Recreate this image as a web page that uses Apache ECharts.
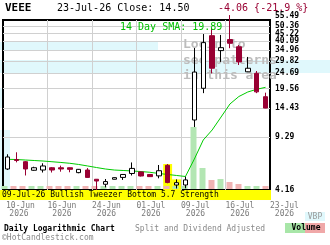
<!DOCTYPE html>
<html><head><meta charset="utf-8">
<script src="https://cdn.jsdelivr.net/npm/echarts@6/dist/echarts.min.js"></script>
<style>html,body{margin:0;padding:0;background:#fff}#c{width:330px;height:245px}</style>
</head><body><div id="c"></div>
<script>
// ---- data ----
const dates = ['10-Jun','11-Jun','12-Jun','15-Jun','16-Jun','17-Jun','18-Jun','22-Jun','23-Jun','24-Jun',
               '25-Jun','26-Jun','29-Jun','30-Jun','01-Jul','02-Jul','06-Jul','07-Jul','08-Jul','09-Jul',
               '10-Jul','13-Jul','14-Jul','15-Jul','16-Jul','17-Jul','20-Jul','21-Jul','22-Jul','23-Jul'];
const open  = [5.73,6.62,6.40,5.62,5.64,5.84,5.84,5.84,5.42,5.64,4.90,4.54,4.90,5.04,5.35,5.48,5.27,5.16,6.06,4.49,
               4.49,12.09,19.6,43.7,34.8,41.2,36.9,25.2,24.6,17.24];
const close = [6.88,6.52,5.73,5.84,6.00,5.64,5.73,5.70,5.70,5.04,4.77,4.73,5.02,5.27,5.78,5.15,5.10,5.58,4.66,4.65,
               4.85,25.1,39.3,26.6,36.4,38.9,29.3,26.6,18.56,14.50];
const low   = [5.64,6.34,5.19,5.58,5.43,5.43,5.50,5.45,5.37,5.02,4.16,4.33,4.89,4.85,5.19,5.11,5.08,4.97,4.61,4.26,
               4.27,10.86,18.2,24.6,29.3,36.1,27.95,25.1,18.2,14.45];
const high  = [7.17,7.39,6.47,5.93,6.25,5.90,6.03,5.86,5.73,5.81,4.92,4.92,5.04,5.28,6.33,5.51,5.31,6.09,6.18,4.89,
               5.10,36.2,44.8,49.1,44.2,59.8,37.9,31.6,25.5,18.33];
const sma14 = [6.64,6.62,6.57,6.52,6.47,6.40,6.33,6.25,6.14,6.00,5.86,5.73,5.64,5.60,5.56,5.51,5.45,5.35,5.27,5.19,
               5.11,6.67,8.91,10.38,12.65,15.43,17.29,18.52,19.30,19.89];
const volume = [3,3,3,3,3,3,3,3,3,3,3,3,3,3,3,3,3,3,3,3,3,62,21,9,10,7,5,3,3,3];
const volUp  = [1,0,0,1,1,0,0,0,1,0,0,1,1,1,1,0,0,1,0,1,1,1,1,0,1,0,0,1,1,0];
const patternIdx = [18,19];
const priceTicks = [4.16,9.29,14.43,19.56,24.69,29.82,34.96,40.09,45.22,50.36,55.49];
const xTickValues = [0,5,10,15,20,25,30];
const xTickLabels = ['10-Jun','16-Jun','24-Jun','01-Jul','09-Jul','16-Jul','23-Jul'];
const xTickYear = '2026';

// ---- chart ----
const FONT = 'DejaVu Sans Mono';
const RED = '#990033';
const GRIDC = '#d0d0d0';
const chart = echarts.init(document.getElementById('c'), null, {renderer:'canvas', width:330, height:245});
const candleData = dates.map((d,i)=>[open[i],close[i],low[i],high[i]]);
const volData = volume.map((v,i)=>({value:v, itemStyle:{color: volUp[i] ? '#b3e6b3' : '#f0b3b3'}}));
const pMin = priceTicks[0], pMax = priceTicks[priceTicks.length-1];
const hlData = patternIdx.map(i=>[{xAxis:i, yAxis:high[i]},{xAxis:i+1, yAxis:pMin}]);

const txt = (x,y,t,o) => ({type:'text', x, y, z:20,
  style:Object.assign({text:t, fontFamily:FONT, fontSize:8, fill:'#000', textVerticalAlign:'middle'}, o||{})});

chart.setOption({
  animation:false,
  backgroundColor:'#fff',
  grid:[
    {left:0, right:60, top:20, bottom:55, show:true, borderColor:'#000', borderWidth:2, backgroundColor:'transparent'},
    {left:0, right:60, bottom:56, height:100}
  ],
  xAxis:[
    {type:'category', gridIndex:0, data:dates, show:false},
    {type:'value', gridIndex:0, min:0, max:30, position:'bottom',
     axisLine:{show:false}, axisTick:{show:true, length:0, customValues:xTickValues.slice(1,-1)},
     splitLine:{show:true, lineStyle:{color:GRIDC, width:1}},
     axisLabel:{customValues:xTickValues, margin:12, align:'left',
       formatter:(v)=>{const k=xTickValues.indexOf(v); const s=k===0?'a0':'a'; return '{'+s+'|'+xTickLabels[k]+'}\n{b|'+xTickYear+'}';},
       rich:{
         a:{fontFamily:FONT, fontSize:8, color:'#7a7a7a', lineHeight:8},
         a0:{fontFamily:FONT, fontSize:8, color:'#7a7a7a', lineHeight:8, padding:[0,0,0,3]},
         b:{fontFamily:FONT, fontSize:8, color:'#7a7a7a', lineHeight:8, align:'center'}
       }}},
    {type:'category', gridIndex:1, data:dates, show:false}
  ],
  yAxis:[
    {type:'log', logBase:10, gridIndex:0, position:'right', min:pMin, max:pMax,
     axisLine:{show:false}, axisTick:{show:true, length:0, customValues:priceTicks.slice(1,-1)},
     splitLine:{show:true, lineStyle:{color:GRIDC, width:1}},
     axisLabel:{customValues:priceTicks, margin:5, fontFamily:FONT, fontSize:8, fontWeight:'bold', color:'#000',
       formatter:(v)=>Number(v).toFixed(2), verticalAlignMaxLabel:'bottom'}},
    {type:'value', gridIndex:1, min:0, max:100, show:false}
  ],
  graphic:[
    {type:'rect', shape:{x:0,y:42,width:158,height:8}, style:{fill:'#e0f8fc'}, z:-1},
    {type:'rect', shape:{x:0,y:60,width:330,height:13}, style:{fill:'#e0f8fc'}, z:-1},
    {type:'rect', shape:{x:0,y:88,width:3,height:20}, style:{fill:'#e0f8fc'}, z:-1},
    {type:'rect', shape:{x:0,y:130,width:10,height:60}, style:{fill:'#e0f8fc'}, z:-1},
    {type:'text', x:183, y:45, z:1, style:{text:'Login to', fontFamily:FONT, fontSize:13, fontWeight:'bold', fill:'#bdbdbd', textVerticalAlign:'middle'}},
    {type:'text', x:183, y:61, z:1, style:{text:'see patterns', fontFamily:FONT, fontSize:13, fontWeight:'bold', fill:'#bdbdbd', textVerticalAlign:'middle'}},
    {type:'text', x:183, y:76, z:1, style:{text:'in this area', fontFamily:FONT, fontSize:13, fontWeight:'bold', fill:'#bdbdbd', textVerticalAlign:'middle'}},
    {type:'rect', shape:{x:0,y:190,width:271,height:10}, style:{fill:'#ffff00'}, z:20},
    txt(2,195,'09-Jul-26 Bullish Tweezer Bottom 5.7 Strength'),
    txt(5,8,'VEEE',{fontSize:11, fontWeight:'bold'}),
    txt(57,8,'23-Jul-26 Close: 14.50',{fontSize:10}),
    txt(218,8,'-4.06 {-21.9 %}',{fontSize:10, fill:RED}),
    txt(120,27,'14 Day SMA: 19.89',{fontSize:10, fill:'#00c000'}),
    txt(4,229,'Daily Logarithmic Chart',{fontWeight:'bold'}),
    txt(135,229,'Split and Dividend Adjusted',{fill:'#8a8a8a'}),
    txt(2,238,'\u00A9HotCandlestick.com',{fill:'#8a8a8a'}),
    {type:'rect', shape:{x:305,y:212,width:20,height:9}, style:{fill:'#e0f8fc'}, z:19},
    txt(315,216.5,'VBP',{fill:'#9a9a9a', textAlign:'center'}),
    {type:'rect', shape:{x:285,y:223,width:20,height:10}, style:{fill:'#a8e6a8'}, z:19},
    {type:'rect', shape:{x:305,y:223,width:20,height:10}, style:{fill:'#f0a8a8'}, z:19},
    txt(306,228,'Volume',{textAlign:'center', fontWeight:'bold'})
  ],
  series:[
    {type:'bar', name:'Volume', xAxisIndex:2, yAxisIndex:1, data:volData, barWidth:6, z:1, silent:true},
    {type:'line', name:'pattern', xAxisIndex:1, yAxisIndex:0, data:[], z:1,
     markArea:{silent:true, itemStyle:{color:'#ffff00'}, data:hlData}},
    {type:'line', name:'SMA', xAxisIndex:0, yAxisIndex:0, data:sma14, symbol:'none', z:2,
     lineStyle:{color:'#00cc00', width:1}},
    {type:'candlestick', name:'VEEE', xAxisIndex:0, yAxisIndex:0, data:candleData, barWidth:5, z:3, clip:false,
     itemStyle:{color:'#ffffff', color0:RED, borderColor:'#000000', borderColor0:RED, borderWidth:1}}
  ]
});
</script></body></html>
